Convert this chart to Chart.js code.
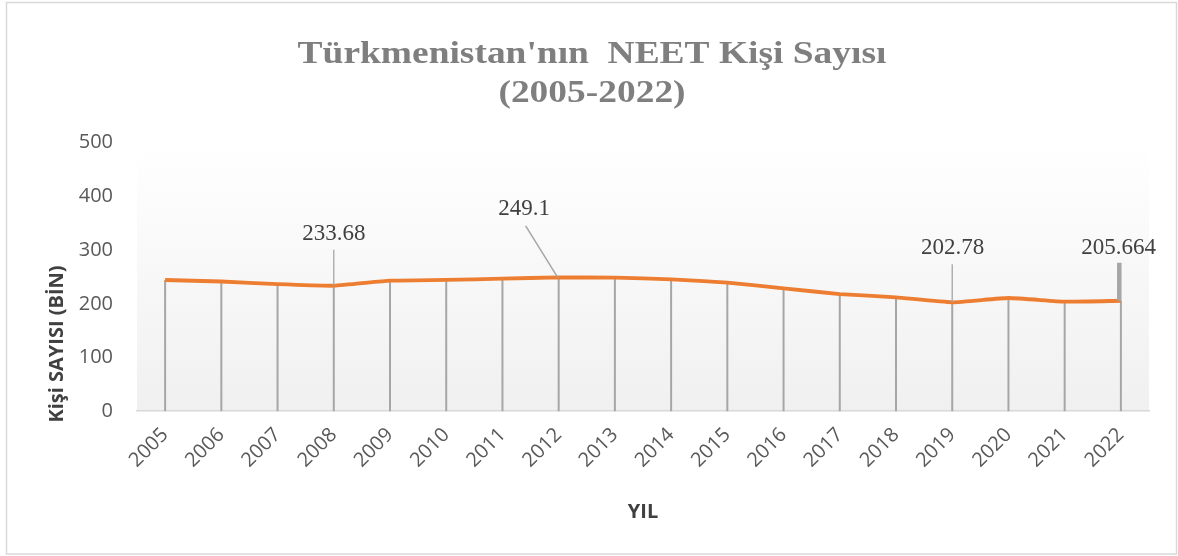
<!DOCTYPE html>
<html>
<head>
<meta charset="utf-8">
<script src="https://cdn.jsdelivr.net/npm/chart.js@4.4.0/dist/chart.umd.min.js"></script>
<style>
  html, body { margin: 0; padding: 0; background: #ffffff; }
  #wrap { width: 1178px; height: 556px; }
</style>
</head>
<body>
<div id="wrap"><canvas id="c" width="1178" height="556"></canvas></div>
<script>
// ---- data ----
const years = ['2005','2006','2007','2008','2009','2010','2011','2012','2013','2014','2015','2016','2017','2018','2019','2020','2021','2022'];
const neetValues = [244.3, 241.5, 236.5, 233.68, 243.0, 244.5, 246.8, 249.1, 248.6, 245.6, 239.3, 228.8, 218.2, 212.0, 202.78, 210.8, 204.0, 205.664];
const labelledYears = ['2008', '2012', '2019', '2022'];
const yTicks = [0, 100, 200, 300, 400, 500];
const titleLines = ["Türkmenistan'nın  NEET Kişi Sayısı", "(2005-2022)"];
const yAxisTitle = 'Kişi SAYISI (BİN)';
const xAxisTitle = 'YIL';

// label leader styles (pixel offsets from the point)
const labelStyles = {
  '2008': { lx: 0, ly: -52, ex: 0, ey: -36, w: 1.3 },
  '2012': { lx: -34.5, ly: -68, ex: -33, ey: -51.6, w: 1.5, sx: -1 },
  '2019': { lx: 0.5, ly: -54, ex: 0, ey: -38, w: 1.3 },
  '2022': { lx: -2.3, ly: -53, ex: -1.6, ey: -38, w: 4.5, sx: -1.6 }
};

const frame = {
  id: 'frame',
  beforeDraw(chart) {
    const ctx = chart.ctx;
    const a = chart.chartArea;
    ctx.save();
    ctx.fillStyle = '#ffffff';
    ctx.fillRect(0, 0, chart.width, chart.height);
    const g = ctx.createLinearGradient(0, a.top, 0, a.bottom);
    g.addColorStop(0, '#ffffff');
    g.addColorStop(1, '#f0f0f0');
    ctx.fillStyle = g;
    ctx.fillRect(a.left, a.top, a.right - a.left, a.bottom - a.top);
    ctx.strokeStyle = '#d9d9d9';
    ctx.lineWidth = 1.5;
    ctx.strokeRect(6.5, 2.5, 1170, 551.5);
    ctx.restore();
  }
};

const texts = {
  id: 'texts',
  afterDraw(chart) {
    const ctx = chart.ctx;
    ctx.save();
    // chart title (wide serif)
    ctx.fillStyle = '#7f7f7f';
    ctx.font = 'bold 32px "Liberation Serif", "Times New Roman", serif';
    ctx.textAlign = 'center';
    ctx.textBaseline = 'alphabetic';
    const cx = 592;
    [62.5, 102].forEach((by, k) => {
      ctx.save();
      ctx.translate(cx, by);
      ctx.scale(1.17, 1);
      ctx.fillText(titleLines[k], 0, 0);
      ctx.restore();
    });
    // y axis title
    ctx.fillStyle = '#404040';
    ctx.font = 'bold 20px "Open Sans", sans-serif';
    ctx.textBaseline = 'middle';
    ctx.translate(57.5, 344);
    ctx.rotate(-Math.PI / 2);
    ctx.fillText(yAxisTitle, 0, 0);
    ctx.restore();
  }
};

const dropLines = {
  id: 'dropLines',
  beforeDatasetsDraw(chart) {
    const ctx = chart.ctx;
    const meta = chart.getDatasetMeta(0);
    const yBase = chart.scales.y.getPixelForValue(0);
    ctx.save();
    ctx.strokeStyle = '#a6a6a6';
    ctx.lineWidth = 2;
    meta.data.forEach(pt => {
      ctx.beginPath();
      ctx.moveTo(pt.x, pt.y);
      ctx.lineTo(pt.x, yBase);
      ctx.stroke();
    });
    ctx.restore();
  }
};

const dataLabels = {
  id: 'dataLabels',
  afterDatasetsDraw(chart) {
    const ctx = chart.ctx;
    const meta = chart.getDatasetMeta(0);
    ctx.save();
    labelledYears.forEach(yr => {
      const i = years.indexOf(yr);
      const pt = meta.data[i];
      const s = labelStyles[yr];
      ctx.strokeStyle = '#a6a6a6';
      ctx.lineWidth = s.w;
      ctx.beginPath();
      ctx.moveTo(pt.x + (s.sx || 0), pt.y);
      ctx.lineTo(pt.x + s.ex, pt.y + s.ey);
      ctx.stroke();
      ctx.fillStyle = '#404040';
      ctx.font = '23px "Liberation Serif", "Times New Roman", serif';
      ctx.textAlign = 'center';
      ctx.textBaseline = 'middle';
      ctx.fillText(String(neetValues[i]), pt.x + s.lx, pt.y + s.ly);
    });
    ctx.restore();
  }
};

new Chart(document.getElementById('c'), {
  type: 'line',
  data: {
    labels: years,
    datasets: [{
      data: neetValues,
      borderColor: '#ED7D31',
      borderWidth: 3.8,
      pointRadius: 0,
      tension: 0.15,
      fill: false
    }]
  },
  options: {
    responsive: false,
    animation: false,
    layout: { padding: { left: 29, right: 29, top: 142.7, bottom: 0 } },
    plugins: {
      legend: { display: false },
      tooltip: { enabled: false },
      title: { display: false }
    },
    scales: {
      x: {
        type: 'category',
        offset: true,
        grid: { display: false, drawTicks: false },
        border: { display: true, color: '#d9d9d9', width: 1.5 },
        ticks: {
          color: '#595959',
          font: { family: '"Open Sans", sans-serif', size: 20 },
          minRotation: 45,
          maxRotation: 45,
          padding: 12,
          autoSkip: false
        },
        title: {
          display: true,
          text: xAxisTitle,
          color: '#404040',
          font: { family: '"Open Sans", sans-serif', size: 20, weight: 'bold', lineHeight: 1.2 },
          padding: { top: 0, bottom: 32 }
        },
        afterFit(scale) { scale.height = 144.8; }
      },
      y: {
        min: 0,
        max: 500,
        afterBuildTicks(scale) { scale.ticks = yTicks.map(v => ({ value: v })); },
        grid: { display: false, drawTicks: false },
        border: { display: false },
        ticks: {
          color: '#595959',
          font: { family: '"Open Sans", sans-serif', size: 20 },
          padding: 24
        },
        title: { display: false },
        afterFit(scale) { scale.width = 108; }
      }
    }
  },
  plugins: [frame, dropLines, dataLabels, texts]
});
</script>
</body>
</html>
